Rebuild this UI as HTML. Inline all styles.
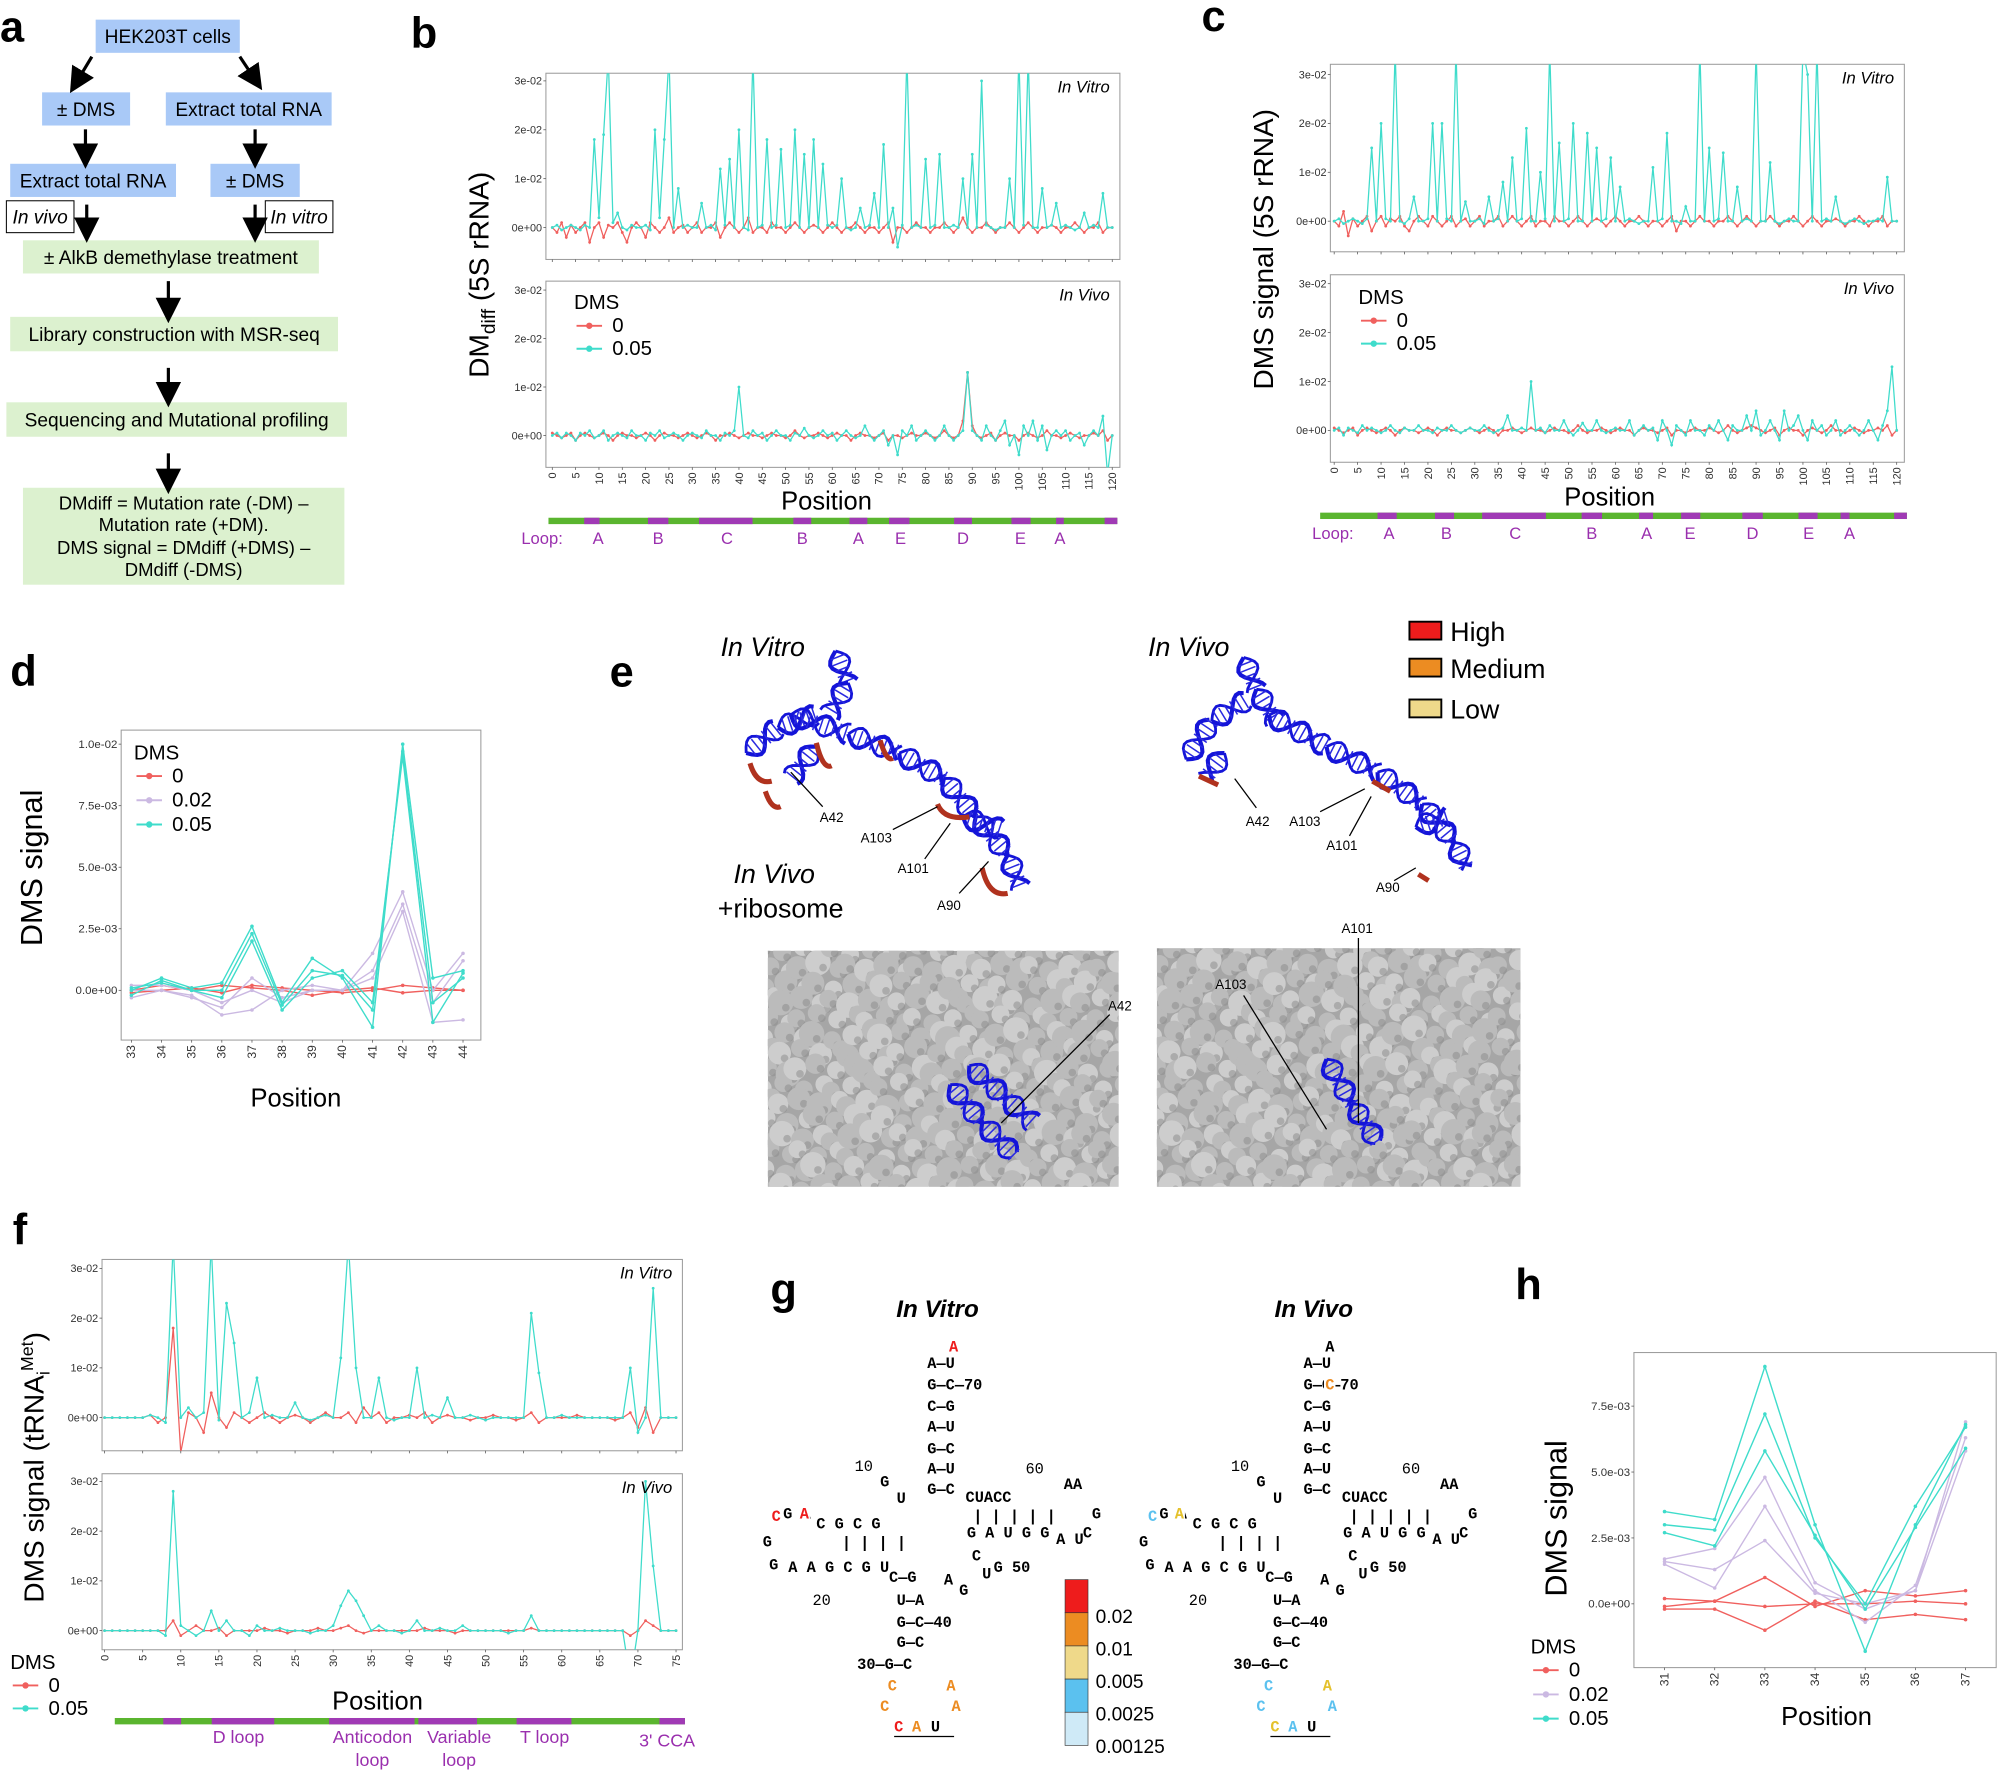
<!DOCTYPE html>
<html><head><meta charset="utf-8">
<style>
html,body{margin:0;padding:0;background:#fff;}
svg{display:block;font-family:"Liberation Sans",Arial,sans-serif;}
</style></head>
<body>
<svg id="fig" width="2000" height="1774" viewBox="0 0 1568 1390" xmlns="http://www.w3.org/2000/svg">
<defs>
<marker id="arr" markerWidth="8" markerHeight="8" refX="4" refY="4" orient="auto"><path d="M0,0 L8,4 L0,8 z" fill="#000"/></marker>
</defs>
</svg>
<script>
// ---------- DATA (values in units of 1e-3) ----------
const bXTicks=[0,5,10,15,20,25,30,35,40,45,50,55,60,65,70,75,80,85,90,95,100,105,110,115,120];
const rTickVals=[0,10,20,30];
const rTickLabels=['0e+00','1e-02','2e-02','3e-02'];
const bVitroTeal=[0,0.5,-0.5,0,0.5,0,-0.5,0.5,0,18, 2,19,35,1,3,0,-0.5,0.5,0,0, 0.5,-0.5,20,2,18,35,0,8,0,0.5, 0,0,5,0,0.5,-0.5,12,0.5,14,0, 20,0,-0.5,35,0,0.5,18,0,0.5,16, 0,0.5,20,0,15,0,18,0,13,0.5, 0,0.5,10,0,-0.5,0,4,0,0.5,7, 0,17,0,4,-4,0.5,35,0,0.5,0, 14,0,0.5,15,0,0,0.5,0,10,0, 15,0,30,0.5,0,-0.5,0,0,10,0, 35,0.5,35,0,0,8,0,0.5,5,0, 0.5,0,-0.5,0,3,0,0.5,0,7,0,0];
const bVitroRed=[0,-1,1,-2,0.5,-1,0,1,-3,0, 1,-2,0.5,0,1,-1,-3,0,1,0, -2,1,0,-1,0,2,-1,0,0.5,-1, 0,1,-1,0,0,1,-2,0,1,0, -1,0,2,-1,0,0,-1,1,0,0, -1,0,1,0,-1,0,0.5,0,-1,0, 1,0,-1,0,0,1,0,-1,0,0, -1,0,1,-3,0,0,-1,0,1,0, 0,-1,0,0,1,0,-1,0,2,0, -1,0,0,1,0,-1,0,0,1,0, -1,0,1,0,-1,0,0,0.5,0,-1, 0,0,1,0,-1,0,0,1,-1,0,0];
const bVivoTeal=[0,0.5,-0.5,0.5,0,-1,0.5,0,1,-0.5, 0,1,-1,0,0.5,0,-0.5,1,0,0, -1,0.5,0,1,-0.5,0,0.5,0,-1,0, 0.5,0,-0.5,1,0,0,-1,0.5,0,1, 10,0,-0.5,1,0,0.5,-1,0,1,0, 0,-1,0.5,0,1.5,0,-0.5,0,1,0, 0.5,-1,0,1,0,-0.5,0,2,0,-1, 0,1,-2,0,-4,1,0,2,-1,0, 1,0,-1,0,2,0,-1,0,1,13, 1,0,-1,2,0,-1,1,3,-2,0, -4,2,0,3,-1,2,-3,0,1,0, 1,-1,0,0.5,-2,0,1,0,4,-8,0];
const bVivoRed=[0.5,0,-0.5,0,0.5,-1,0,0.5,0,-0.5, 0,0.5,0,-1,0,0.5,0,0,-0.5,0, 0.5,0,-1,0,0.5,0,0,-0.5,0,0.5, 0,-0.5,0,0.5,0,-1,0,0,0.5,0, -0.5,0,0.5,0,0,-0.5,0,0.5,0,0, -0.5,0,1,0,-0.5,0,0,0.5,0,-0.5, 0,0.5,0,0,-1,0,0.5,0,0,-0.5, 0,0.5,-1,0,0,-0.5,0,0.5,0,0, 0.5,0,-0.5,0,1,0,-0.5,0,3,13, 2,0,-0.5,0,0.5,-1,0,0.5,0,0, -1,0,0.5,0,-0.5,0,1,0,0,-0.5, 0,0.5,0,-0.5,0,0,0.5,0,1,-1,0];
const cVitroTeal=[0,0.5,-0.5,0,0.5,0,-0.5,0.5,15,0, 20,0.5,0,35,0,-0.5,0.5,5,0,0, 0.5,20,0,20,0.5,0,35,0,4,0, 0,0.5,-0.5,5,0,0.5,8,0,13,0, 0.5,19,0,0,10,0.5,35,0,16,0, 0.5,20,0,0,18,0,15,0,0.5,13, 0,7,0,0.5,0,-0.5,0,0,11,0, 0.5,18,0,0,-0.5,3,0,0,35,0, 15,0,0.5,14,0,0,7,0,0.5,0, 35,0,0,12,0,-0.5,0,0.5,0,0, 35,30,0,35,0,0.5,0,5,0,-0.5, 0,0.5,0,-0.5,0,0,0.5,0,9,0,0];
const cVitroRed=[0,-1,2,-3,0.5,-1,0,1,-2,0, 1,-1,0.5,0,1,-1,-2,0,1,0, -1,1,0,-1,0,1,-1,0,0.5,-1, 0,1,-1,0,0,1,-1,0,1,0, -1,0,1,-1,0,0,-1,1,0,0, -1,0,1,0,-1,0,0.5,0,-1,0, 1,0,-1,0,0,1,0,-1,0,0, -1,0,1,-2,0,0,-1,0,1,0, 0,-1,0,0,1,0,-1,0,1,0, -1,0,0,1,0,-1,0,0,1,0, -1,0,1,0,-1,0,0,0.5,0,-1, 0,0,1,0,-1,0,0,1,-1,0,0];
const cVivoTeal=[0,0.5,-1,0.5,0,-0.5,1,0,0.5,0, -0.5,0,1,0,-0.5,0.5,0,0,1,0, 0,-0.5,0.5,0,0,1,0,-0.5,0,0.5, 0,0,1,0,-0.5,0,0.5,3,0,0, 0.5,0,10,0,0.5,-0.5,1,0,0,2, 0,-1,0,1.5,0,0,2,0,-0.5,0, 0.5,0,0,2,-1,0,1,0,0.5,-2, 2,0,-3,1,0,-1,2,0,0,-1, 1,0,2,0,-2,1,0,0,3,0, 4,-1,0,2,0,-2,4,0,1,3, 0,-2,2,0,1,-1,0,2,-1,0, 1,0,-1,0,2,0,-2,1,4,13,0];
const cVivoRed=[0.5,0,-0.5,0,0.5,-1,0,0.5,0,-0.5, 0,0.5,0,-1,0,0.5,0,0,-0.5,0, 0.5,0,-1,0,0.5,0,0,-0.5,0,0.5, 0,-0.5,0,0.5,0,-1,0,0,0.5,0, -0.5,0,0.5,0,0,-0.5,0,0.5,0,0, -0.5,0,1,0,-0.5,0,0,0.5,0,-0.5, 0,0.5,0,0,-1,0,0.5,0,0,-0.5, 0,0.5,-1,0,0,-0.5,0,0.5,0,0, 0.5,0,-0.5,0,1,0,-0.5,0,0.5,1, 0.5,0,-0.5,0,0.5,-1,0,0.5,0,0, -1,0,0.5,0,-0.5,0,1,0,0,-0.5, 0,0.5,0,-0.5,0,0,0.5,0,1,-1,0];
const dPositions=[33,34,35,36,37,38,39,40,41,42,43,44];
const dTeal1=[0,0.5,0.1,0.3,2.6,-0.5,1.3,0.5,-1.5,10,0.5,0.8];
const dTeal2=[-0.2,0.4,0,-0.3,2.0,-0.8,0.5,0.8,-0.5,9.5,-1.3,0.7];
const dTeal3=[0.1,0.3,0,0,2.3,-0.6,0.8,0.6,-0.8,9.7,-0.5,0.5];
const dLav1=[-0.3,0,-0.2,-1.0,-0.8,0,0.2,0,1.5,4,0,1.5];
const dLav2=[0,0,-0.3,-0.7,0.5,-0.3,0,0,0.5,3.2,-1.3,-1.2];
const dLav3=[0.2,0.2,0,-0.5,0,-0.5,0,0,0.8,3.5,-0.5,1.2];
const dRed1=[0,0.2,0,0.2,0.1,0,-0.2,0,0.1,-0.1,0,0];
const dRed2=[-0.1,0,0.1,-0.1,0.2,0.1,0,-0.1,0,0.2,0.1,0];
const dTickVals=[0,2.5,5,7.5,10];
const dTickLabels=['0.0e+00','2.5e-03','5.0e-03','7.5e-03','1.0e-02'];
const fXTicks=[0,5,10,15,20,25,30,35,40,45,50,55,60,65,70,75];
const fVitroTeal=[0,0,0,0,0,0,0.5,0,-1,35, 0,2,0,1,35,-0.5,23,15,0,1, 8,0,0.5,0,0,3,0,-0.5,0,0.5, 0,12,35,10,0,0,8,0,-0.5,0, 0,10,0,0.5,0,4,0,0,0.5,0, -0.5,0,0,0,0,0,21,9,0,0, 0.5,0,0,0,0,0,0,0,0,10, -3,0,26,0,0,0];
const fVitroRed=[0,0,0,0,0,0,0.5,-1,0,18, -7,1,0,-3,5,0,-2,1,0,-1, 0,1,0,-1,0,0.5,0,-1,0,1, 0,0,1,-1,2,0,1,-1,0,0, 0.5,0,1,-1,0,0.5,0,0,-0.5,0, 0,0.5,0,0,-0.5,0,1,-1,0,0, 0,0,0.5,0,0,0,0,-0.5,0,1, -2,2,-3,0,0,0];
const fVivoTeal=[0,0,0,0,0,0,0,0,-1,28, 1,0,-1,0,4,0,2,0,0,-1, 1,0,0,0.5,0,0,0,-0.5,0,0, 1,5,8,6,3,0,1,0,0,-0.5, 0,2,0,0,0.5,0,0,1,0,0, 0,0,0,-0.5,0,0,3,0,0,0, 0,0,0,0,0,0,0,0,0,-10, 0,30,13,0,0,0];
const fVivoRed=[0,0,0,0,0,0,0,0,0,2, -1,0,1,0,0,0.5,-1,0,0,0, 0,0.5,0,0,-0.5,0,0,0,0.5,0, 0,0.5,1,0,-0.5,0,0,0,0,0, 0,0,0.5,0,0,0,-0.5,0,0,0, 0,0,0,0,0,0,0.5,0,0,0, 0,0,0,0,0,0,0,0,0,-1, 0,2,1,0,0,0];
const hPositions=[31,32,33,34,35,36,37];
const hTeal1=[3.5,3.2,9,3,-1.8,3.0,6.8];
const hTeal2=[3.0,2.8,7.2,2.5,0,3.7,6.7];
const hTeal3=[2.7,2.2,5.8,2.6,-0.2,2.9,5.9];
const hLav1=[1.7,2.1,4.8,0.8,-0.2,0.5,6.9];
const hLav2=[1.5,0.6,3.7,0.5,-0.7,0.7,6.3];
const hLav3=[1.6,1.3,2.4,0.4,0,0.5,5.8];
const hRed1=[0.2,0.1,1,-0.1,0.5,0.3,0.5];
const hRed2=[-0.1,0.1,-0.1,0,0,0.1,0];
const hRed3=[-0.2,-0.2,-1,0.1,-0.6,-0.4,-0.6];
const hTickVals=[0,2.5,5,7.5];
const hTickLabels=['0.0e+00','2.5e-03','5.0e-03','7.5e-03'];

const TEAL='#3fdccb', RED='#f0605e', LAV='#cbb9e2';
const NS='http://www.w3.org/2000/svg';
const svg=document.getElementById('fig');
function mk(tag,attrs,parent){const e=document.createElementNS(NS,tag);for(const k in attrs)e.setAttribute(k,attrs[k]);(parent||svg).appendChild(e);return e;}
function txt(x,y,s,attrs,parent){const e=mk('text',Object.assign({x:x,y:y},attrs||{}),parent);e.textContent=s;return e;}
function lin(d0,d1,r0,r1){return v=>r0+(v-d0)*(r1-r0)/(d1-d0);}
let clipN=0;

function plot(c){
  const g=mk('g',{});
  
  
  const fr=mk('rect',{x:c.x0,y:c.y0,width:c.x1-c.x0,height:c.y1-c.y0,fill:'#fff',stroke:'#9a9a9a','stroke-width':0.8},g);
  
  
  const sx=c.sx, sy=c.sy;
  c.yTicks.forEach((v,i)=>{
    const t=txt(c.x0-3,sy(v)+3,c.yLabels[i],{'font-size':c.tfs||8.5,'text-anchor':'end',fill:'#333'},g);
    
    
    mk('line',{x1:c.x0-2,x2:c.x0,y1:sy(v),y2:sy(v),stroke:'#555','stroke-width':0.6},g);
  });
  if(c.xTicks){c.xTicks.forEach(v=>{
    mk('line',{x1:sx(v),x2:sx(v),y1:c.y1,y2:c.y1+2,stroke:'#555','stroke-width':0.6},g);
    if(c.xLabels){const ty=c.y1+4;const t=txt(sx(v),ty,String(v),{'font-size':c.xfs||8.5,'text-anchor':'end',fill:'#333',transform:'rotate(-90 '+sx(v)+' '+ty+')',dy:'3'},g);
    
    }
  });}
  clipN++;
  const cp=mk('clipPath',{id:'cp'+clipN},g);
  mk('rect',{x:c.x0,y:c.y0,width:c.x1-c.x0,height:c.y1-c.y0},cp);
  const sg=mk('g',{'clip-path':'url(#cp'+clipN+')'},g);
  c.series.forEach(s=>{
    const pts=s.ys.map((v,i)=>sx(s.xs[i]).toFixed(1)+','+sy(v).toFixed(1)).join(' ');
    const pl=mk('polyline',{points:pts,fill:'none',stroke:s.color,'stroke-width':c.sw||1},sg);
    
    
    s.ys.forEach((v,i)=>{const d=mk('circle',{cx:sx(s.xs[i]),cy:sy(v),r:c.pr||1.1,fill:s.color},sg);
      
      });
  });
  if(c.title){const t=txt(c.x1-8,c.y0+15,c.title,{'font-size':13,'font-style':'italic','text-anchor':'end'},g);
    
    }
  return g;
}
const pos121=bVitroTeal.map((_,i)=>i);
const pos76=fVitroTeal.map((_,i)=>i);

function panelLetter(x,y,s){const t=txt(x,y,s,{'font-size':34,'font-weight':'bold'});
  
  }

// ---------- Panel a: flowchart ----------
panelLetter(0,32,'a');
function box(x,y,w,h,fill,label,name,opts){
  const r=mk('rect',{x:x,y:y,width:w,height:h,fill:fill,stroke:(opts&&opts.stroke)||'none','stroke-width':0.8});
  
  
  const t=txt(x+w/2,y+h/2+5.5,label,{'font-size':15,'text-anchor':'middle','font-style':(opts&&opts.italic)?'italic':'normal'});
  
  
}
const BL='#a9c9f7', GR='#dcf1cf';
box(75,15,113,26,BL,'HEK203T cells','hek-cells-box');
box(33,72,69,26,BL,'± DMS','dms-box-left');
box(130,72,130,26,BL,'Extract total RNA','extract-rna-box-right');
box(8,128,130,26,BL,'Extract total RNA','extract-rna-box-left');
box(165,128,70,26,BL,'± DMS','dms-box-right');
box(5,157,53,25,'#fff','In vivo','in-vivo-box',{stroke:'#000',italic:true});
box(208,157,53,25,'#fff','In vitro','in-vitro-box',{stroke:'#000',italic:true});
box(18,188,232,26,GR,'± AlkB demethylase treatment','alkb-box');
box(8,248,257,27,GR,'Library construction with MSR-seq','library-box');
box(5,315,267,27,GR,'Sequencing and Mutational profiling','sequencing-box');
mk('rect',{x:18,y:382,width:252,height:76,fill:GR});
[['DMdiff = Mutation rate (-DM) –',399],['Mutation rate (+DM).',416],['DMS signal = DMdiff (+DMS) –',434],['DMdiff (-DMS)',451]].forEach(a=>{
  const t=txt(144,a[1],a[0],{'font-size':14.5,'text-anchor':'middle'});
  
  
});
[[72,44,60,64],[188,44,200,62],[67,101,67,122],[200,101,200,122],[68,160,68,180],[200,160,200,180],[132,220,132,243],[132,288,132,309],[132,355,132,377]].forEach(a=>{
  const l=mk('line',{x1:a[0],y1:a[1],x2:a[2],y2:a[3],stroke:'#000','stroke-width':2.5,'marker-end':'url(#arr)'});
  
  
});

// ---------- Panel b ----------
panelLetter(322,37,'b');
{
  const sx=lin(0,120,433,872);
  plot({name:'b-in-vitro-plot',x0:428,x1:878,y0:57,y1:203,sx:sx,sy:lin(0,30,178,63),yTicks:rTickVals,yLabels:rTickLabels,xTicks:bXTicks,xLabels:false,title:'In Vitro',
    series:[{xs:pos121,ys:bVitroRed,color:RED,name:'b-vitro-dms0-line'},{xs:pos121,ys:bVitroTeal,color:TEAL,name:'b-vitro-dms005-line'}]});
  plot({name:'b-in-vivo-plot',x0:428,x1:878,y0:220,y1:366,sx:sx,sy:lin(0,30,341,227),yTicks:rTickVals,yLabels:rTickLabels,xTicks:bXTicks,xLabels:true,title:'In Vivo',
    series:[{xs:pos121,ys:bVivoRed,color:RED,name:'b-vivo-dms0-line'},{xs:pos121,ys:bVivoTeal,color:TEAL,name:'b-vivo-dms005-line'}]});
  let t=txt(383,215,'',{'font-size':22,'text-anchor':'middle',transform:'rotate(-90 383 215)'});
  t.innerHTML='DM<tspan font-size="15" dy="5">diff</tspan><tspan dy="-5"> (5S rRNA)</tspan>';
  
  
  t=txt(648,399,'Position',{'font-size':20,'text-anchor':'middle'});
  
  
  legend(450,242,'b');
}
function legend(x,y,p,three){
  const t=txt(x,y,'DMS',{'font-size':16});
  
  
  const items=three?[['0',RED],['0.02',LAV],['0.05',TEAL]]:[['0',RED],['0.05',TEAL]];
  items.forEach((it,i)=>{
    const yy=y+17+i*(three?19:18);
    const g=mk('g',{});
    
    
    mk('line',{x1:x+2,x2:x+22,y1:yy-4,y2:yy-4,stroke:it[1],'stroke-width':1.5},g);
    mk('circle',{cx:x+12,cy:yy-4,r:2.5,fill:it[1]},g);
    txt(x+30,yy+1,it[0],{'font-size':16},g);
  });
}
function loopBar(x0,x1,y,segs,labels,ly,name){
  const g=mk('g',{});
  
  
  mk('rect',{x:x0,y:y-2.5,width:x1-x0,height:5,fill:'#5ab52f'},g);
  segs.forEach(s=>mk('rect',{x:s[0],y:y-2.5,width:s[1]-s[0],height:5,fill:'#a03ab5'},g));
  labels.forEach(l=>txt(l[0],ly,l[1],{'font-size':13,'text-anchor':'middle',fill:'#9a2fae'},g));
}
loopBar(430,876,408,[[458,470],[508,524],[548,590],[622,636],[666,680],[697,713],[748,762],[793,808],[828,834],[866,876]],[[425,'Loop:'],[469,'A'],[516,'B'],[570,'C'],[629,'B'],[673,'A'],[706,'E'],[755,'D'],[800,'E'],[831,'A']],426,'b-loop-bar');

// ---------- Panel c ----------
panelLetter(942,24,'c');
{
  const sx=lin(0,120,1046,1487);
  plot({name:'c-in-vitro-plot',x0:1043,x1:1493,y0:50,y1:197,sx:sx,sy:lin(0,30,173,58),yTicks:rTickVals,yLabels:rTickLabels,xTicks:bXTicks,xLabels:false,title:'In Vitro',
    series:[{xs:pos121,ys:cVitroRed,color:RED,name:'c-vitro-dms0-line'},{xs:pos121,ys:cVitroTeal,color:TEAL,name:'c-vitro-dms005-line'}]});
  plot({name:'c-in-vivo-plot',x0:1043,x1:1493,y0:215,y1:362,sx:sx,sy:lin(0,30,337,222),yTicks:rTickVals,yLabels:rTickLabels,xTicks:bXTicks,xLabels:true,title:'In Vivo',
    series:[{xs:pos121,ys:cVivoRed,color:RED,name:'c-vivo-dms0-line'},{xs:pos121,ys:cVivoTeal,color:TEAL,name:'c-vivo-dms005-line'}]});
  let t=txt(998,195,'DMS signal (5S rRNA)',{'font-size':22,'text-anchor':'middle',transform:'rotate(-90 998 195)'});
  
  
  t=txt(1262,396,'Position',{'font-size':20,'text-anchor':'middle'});
  
  
  legend(1065,238,'c');
}
loopBar(1035,1495,404,[[1080,1095],[1125,1140],[1162,1212],[1240,1256],[1285,1296],[1318,1333],[1366,1382],[1410,1425],[1443,1450],[1485,1495]],[[1045,'Loop:'],[1089,'A'],[1134,'B'],[1188,'C'],[1248,'B'],[1291,'A'],[1325,'E'],[1374,'D'],[1418,'E'],[1450,'A']],422,'c-loop-bar');

// ---------- Panel d ----------
panelLetter(8,537,'d');
{
  const sx=lin(33,44,103,363), sy=lin(0,10,776,583);
  plot({name:'d-plot',x0:95,x1:377,y0:572,y1:815,sx:sx,sy:sy,yTicks:dTickVals,yLabels:dTickLabels,xTicks:dPositions,xLabels:true,xfs:9.5,tfs:9,sw:1.1,pr:1.4,
    series:[{xs:dPositions,ys:dRed1,color:RED,name:'d-dms0-rep1'},{xs:dPositions,ys:dRed2,color:RED,name:'d-dms0-rep2'},
      {xs:dPositions,ys:dLav1,color:LAV,name:'d-dms002-rep1'},{xs:dPositions,ys:dLav2,color:LAV,name:'d-dms002-rep2'},{xs:dPositions,ys:dLav3,color:LAV,name:'d-dms002-rep3'},
      {xs:dPositions,ys:dTeal1,color:TEAL,name:'d-dms005-rep1'},{xs:dPositions,ys:dTeal2,color:TEAL,name:'d-dms005-rep2'},{xs:dPositions,ys:dTeal3,color:TEAL,name:'d-dms005-rep3'}]});
  let t=txt(33,680,'DMS signal',{'font-size':24,'text-anchor':'middle',transform:'rotate(-90 33 680)'});
  
  
  t=txt(232,867,'Position',{'font-size':20,'text-anchor':'middle'});
  
  
  legend(105,595,'d',true);
}

// ---------- Panel e (structures) ----------
panelLetter(478,538,'e');
function helix(pts,name,col){
  const g=mk('g',{});
  
  
  for(let k=0;k<pts.length-1;k++){
    const [x0,y0]=pts[k],[x1,y1]=pts[k+1];
    const dx=x1-x0,dy=y1-y0,L=Math.hypot(dx,dy),nx=-dy/L,ny=dx/L;
    let d1='',d2='';
    const n=Math.max(6,Math.round(L/3));
    for(let i=0;i<=n;i++){const t=i/n,s=Math.sin(t*L/6);
      const px=x0+dx*t,py=y0+dy*t;
      d1+=(i?'L':'M')+(px+nx*8*s).toFixed(1)+','+(py+ny*8*s).toFixed(1);
      d2+=(i?'L':'M')+(px-nx*8*s).toFixed(1)+','+(py-ny*8*s).toFixed(1);}
    mk('path',{d:d1,fill:'none',stroke:col||'#1414d8','stroke-width':3.2},g);
    mk('path',{d:d2,fill:'none',stroke:col||'#1414d8','stroke-width':2.2},g);
    for(let i=1;i<L/5;i++){const t=i*5/L;const px=x0+dx*t,py=y0+dy*t;
      mk('line',{x1:px-nx*6,y1:py-ny*6,x2:px+nx*6,y2:py+ny*6,stroke:'#2a2ae0','stroke-width':1.2},g);}
  }
}
helix([[585,590],[610,570],[640,560]],'vitro-helix-1');
helix([[655,510],[665,535],[650,560]],'vitro-helix-2');
helix([[620,560],[665,575],[705,590],[740,610],[765,640],[790,670],[800,695]],'vitro-helix-3');
helix([[640,585],[620,610]],'vitro-helix-4');
helix([[755,640],[785,650]],'vitro-helix-5');
[[588,598,605,612],[640,582,652,600],[735,630,760,640],[770,680,790,700],[600,620,612,632],[690,580,700,594]].forEach(a=>{
  const l=mk('path',{d:'M'+a[0]+','+a[1]+' Q'+(a[0]+5)+','+(a[3]+3)+' '+a[2]+','+a[3],stroke:'#b0321e','stroke-width':4,fill:'none'});
  
  
});
helix([[930,595],[950,565],[978,548]],'vivo-helix-1');
helix([[975,515],[985,540],[1000,565]],'vivo-helix-2');
helix([[995,560],[1040,585],[1080,605],[1115,630],[1140,660],[1150,680]],'vivo-helix-3');
helix([[1110,648],[1135,640]],'vivo-helix-4');
helix([[960,590],[945,610]],'vivo-helix-5');
{const l=mk('path',{d:'M940,608 L955,615 M1076,612 L1090,620 M1112,685 L1120,690',stroke:'#b0321e','stroke-width':4,fill:'none'});
  
  }
[['In Vitro',598,514],['In Vivo',932,514],['In Vivo',607,692],['+ribosome',612,719]].forEach(a=>{
  const t=txt(a[1],a[2],a[0],{'font-size':21,'text-anchor':'middle','font-style':a[0]==='+ribosome'?'normal':'italic'});
  
  
});
[['High','#ee1c1c',487],['Medium','#ec8c22',516],['Low','#efd98a',548]].forEach(a=>{
  const g=mk('g',{});
  
  
  mk('rect',{x:1105,y:a[2],width:25,height:14,fill:a[1],stroke:'#000','stroke-width':1.5},g);
  txt(1137,a[2]+15,a[0],{'font-size':21},g);
});
function callout(x1,y1,x2,y2,lx,ly,lab){
  const g=mk('g',{});
  
  
  mk('line',{x1:x1,y1:y1,x2:x2,y2:y2,stroke:'#000','stroke-width':1},g);
  txt(lx,ly,lab,{'font-size':10.5,'text-anchor':'middle'},g);
}
callout(620,605,645,632,652,644,'A42');
callout(735,632,700,650,687,660,'A103');
callout(745,645,725,673,716,684,'A101');
callout(775,675,752,700,744,713,'A90');
callout(968,610,985,633,986,647,'A42');
callout(1070,618,1035,636,1023,647,'A103');
callout(1075,624,1058,655,1052,666,'A101');
callout(1110,680,1093,690,1088,699,'A90');
function surface(x,y,w,h,name){
  const g=mk('g',{});
  
  
  clipN++;
  const cp=mk('clipPath',{id:'cp'+clipN},g);
  mk('rect',{x:x,y:y,width:w,height:h},cp);
  const sg=mk('g',{'clip-path':'url(#cp'+clipN+')'},g);
  mk('rect',{x:x,y:y,width:w,height:h,fill:'#a6a6a6'},sg);
  for(let i=0;i<22;i++)for(let j=0;j<15;j++){
    const px=x+i*w/21+((j*7+i*3)%11)-5,py=y+j*h/14+((i*5+j*3)%9)-4;
    mk('circle',{cx:px,cy:py,r:7+((i*j)%4),fill:((i*3+j*2)%5<2)?'#cdcdcd':'#bbbbbb'},sg);
    mk('circle',{cx:px+4,cy:py+4,r:3,fill:'#8a8a8a',opacity:0.5},sg);
  }
  return sg;
}
surface(602,745,275,185,'e-ribosome-surface-left');
surface(907,743,285,187,'e-ribosome-surface-right');
helix([[745,850],[770,880],[795,905]],'e-surface-helix-left');
helix([[760,835],[810,880]],'e-surface-helix-left-2');
helix([[1040,830],[1060,865],[1080,895]],'e-surface-helix-right');
callout(785,880,870,795,878,792,'A42');
callout(1040,885,975,780,965,775,'A103');
callout(1065,880,1065,735,1064,731,'A101');

// ---------- Panel f ----------
panelLetter(10,975,'f');
{
  const sx=lin(0,75,82,530);
  plot({name:'f-in-vitro-plot',x0:80,x1:535,y0:987,y1:1137,sx:sx,sy:lin(0,30,1111,994),yTicks:rTickVals,yLabels:rTickLabels,xTicks:fXTicks,xLabels:false,title:'In Vitro',
    series:[{xs:pos76,ys:fVitroRed,color:RED,name:'f-vitro-dms0-line'},{xs:pos76,ys:fVitroTeal,color:TEAL,name:'f-vitro-dms005-line'}]});
  plot({name:'f-in-vivo-plot',x0:80,x1:535,y0:1155,y1:1293,sx:sx,sy:lin(0,30,1278,1161),yTicks:rTickVals,yLabels:rTickLabels,xTicks:fXTicks,xLabels:true,title:'In Vivo',
    series:[{xs:pos76,ys:fVivoRed,color:RED,name:'f-vivo-dms0-line'},{xs:pos76,ys:fVivoTeal,color:TEAL,name:'f-vivo-dms005-line'}]});
  let t=txt(34,1150,'',{'font-size':22,'text-anchor':'middle',transform:'rotate(-90 34 1150)'});
  t.innerHTML='DMS signal (tRNA<tspan font-size="14" dy="5">i</tspan><tspan font-size="14" dy="-13">Met</tspan><tspan dy="8">)</tspan>';
  
  
  t=txt(296,1340,'Position',{'font-size':20,'text-anchor':'middle'});
  
  
  legend(8,1308,'f');
}
{
  loopBar(90,537,1349,[[128,142],[166,215],[258,325],[328,374],[405,448],[517,537]],[],1362,'f-loop-bar');
  [['D loop',187,1366],['Anticodon',292,1366],['loop',292,1384],['Variable',360,1366],['loop',360,1384],['T loop',427,1366],["3' CCA",523,1369]].forEach(a=>{
    const t=txt(a[1],a[2],a[0],{'font-size':14,'text-anchor':'middle',fill:'#9a2fae'});
    
    
  });
}

// ---------- Panel g (secondary structures) ----------
panelLetter(604,1022,'g');
function structure(ox,title,prefix){
  const g=mk('g',{'font-family':'"Liberation Mono",monospace','font-weight':'bold','font-size':12});
  
  
  txt(ox+735,1032,title,{'font-size':19,'font-style':'italic','text-anchor':'middle','font-family':'"Liberation Sans",sans-serif'},g);
  const rows=[[ox+744,1059,'A'],[ox+727,1072,'A—U'],[ox+727,1089,'G—C—70'],[ox+727,1106,'C—G'],[ox+727,1122,'A—U'],[ox+727,1139,'G—C'],[ox+727,1155,'A—U'],[ox+727,1171,'G—C'],
    [ox+804,1155,'60'],[ox+670,1153,'10'],[ox+690,1165,'G'],[ox+703,1178,'U'],[ox+757,1177,'CUACC'],[ox+834,1167,'AA'],[ox+856,1190,'G'],
    [ox+605,1192,'C'],[ox+614,1190,'G A'],[ox+640,1198,'C G C G'],[ox+598,1212,'G'],[ox+603,1230,'G'],[ox+618,1232,'A A G C G U'],[ox+660,1213,'| | | |'],
    [ox+758,1205,'G A U G G'],[ox+828,1210,'A U'],[ox+849,1205,'C'],[ox+762,1223,'C'],[ox+770,1237,'U'],[ox+779,1232,'G 50'],[ox+763,1192,'| | | | |'],
    [ox+697,1240,'C—G'],[ox+740,1242,'A'],[ox+752,1250,'G'],[ox+637,1258,'20'],[ox+703,1258,'U—A'],[ox+703,1275,'G—C—40'],[ox+703,1291,'G—C'],[ox+672,1308,'30—G—C'],
    [ox+696,1325,'C'],[ox+742,1325,'A'],[ox+690,1341,'C'],[ox+746,1341,'A'],[ox+701,1357,'C A U']];
  rows.forEach(r=>{const t=txt(r[0],r[1],r[2],{},g);t.setAttribute('font-weight',/\d/.test(r[2])&&r[2].length<3?'normal':'bold');});
  mk('line',{x1:ox+701,x2:ox+748,y1:1361,y2:1361,stroke:'#000','stroke-width':1},g);
}
structure(0,'In Vitro','g-in-vitro');
structure(295,'In Vivo','g-in-vivo');
{
  const colors=['#ee1c1c','#ec8c22','#efd98a','#5bc1ef','#cfeaf7'];
  const labels=['0.02','0.01','0.005','0.0025','0.00125'];
  const g=mk('g',{});
  
  
  colors.forEach((c,i)=>{mk('rect',{x:835,y:1238+i*26,width:18,height:26,fill:c,stroke:'#333','stroke-width':0.5},g);
    txt(859,1272+i*25.5,labels[i],{'font-size':15},g);});
}
[[744,1059,'A','#ee1c1c'],[1039,1089,'C','#ec8c22'],[605,1192,'C','#ee1c1c'],[627,1190,'A','#ee1c1c'],[696,1325,'C','#ec8c22'],[690,1341,'C','#ec8c22'],[742,1325,'A','#ec8c22'],[746,1341,'A','#ec8c22'],[701,1357,'C','#ee1c1c'],[715,1357,'A','#ec8c22'],[900,1192,'C','#5bc1ef'],[921,1190,'A','#e4c12c'],[991,1325,'C','#5bc1ef'],[985,1341,'C','#5bc1ef'],[1037,1325,'A','#e4c12c'],[1041,1341,'A','#5bc1ef'],[996,1357,'C','#e4c12c'],[1010,1357,'A','#5bc1ef']].forEach(a=>{
  mk('rect',{x:a[0]-1,y:a[1]-11,width:9,height:13,fill:'#fff'});
  const t=txt(a[0],a[1],a[2],{'font-size':12,'font-weight':'bold','font-family':'"Liberation Mono",monospace',fill:a[3]});
  
  
});

// ---------- Panel h ----------
panelLetter(1188,1018,'h');
{
  const sx=lin(31,37,1305,1541), sy=lin(0,7.5,1257,1102);
  plot({name:'h-plot',x0:1281,x1:1565,y0:1060,y1:1307,sx:sx,sy:sy,yTicks:hTickVals,yLabels:hTickLabels,xTicks:hPositions,xLabels:true,xfs:9.5,tfs:9,sw:1.1,pr:1.4,
    series:[{xs:hPositions,ys:hRed1,color:RED,name:'h-dms0-rep1'},{xs:hPositions,ys:hRed2,color:RED,name:'h-dms0-rep2'},{xs:hPositions,ys:hRed3,color:RED,name:'h-dms0-rep3'},
      {xs:hPositions,ys:hLav1,color:LAV,name:'h-dms002-rep1'},{xs:hPositions,ys:hLav2,color:LAV,name:'h-dms002-rep2'},{xs:hPositions,ys:hLav3,color:LAV,name:'h-dms002-rep3'},
      {xs:hPositions,ys:hTeal1,color:TEAL,name:'h-dms005-rep1'},{xs:hPositions,ys:hTeal2,color:TEAL,name:'h-dms005-rep2'},{xs:hPositions,ys:hTeal3,color:TEAL,name:'h-dms005-rep3'}]});
  let t=txt(1228,1190,'DMS signal',{'font-size':24,'text-anchor':'middle',transform:'rotate(-90 1228 1190)'});
  
  
  t=txt(1432,1352,'Position',{'font-size':20,'text-anchor':'middle'});
  
  
  legend(1200,1296,'h',true);
}
</script>
</body></html>
